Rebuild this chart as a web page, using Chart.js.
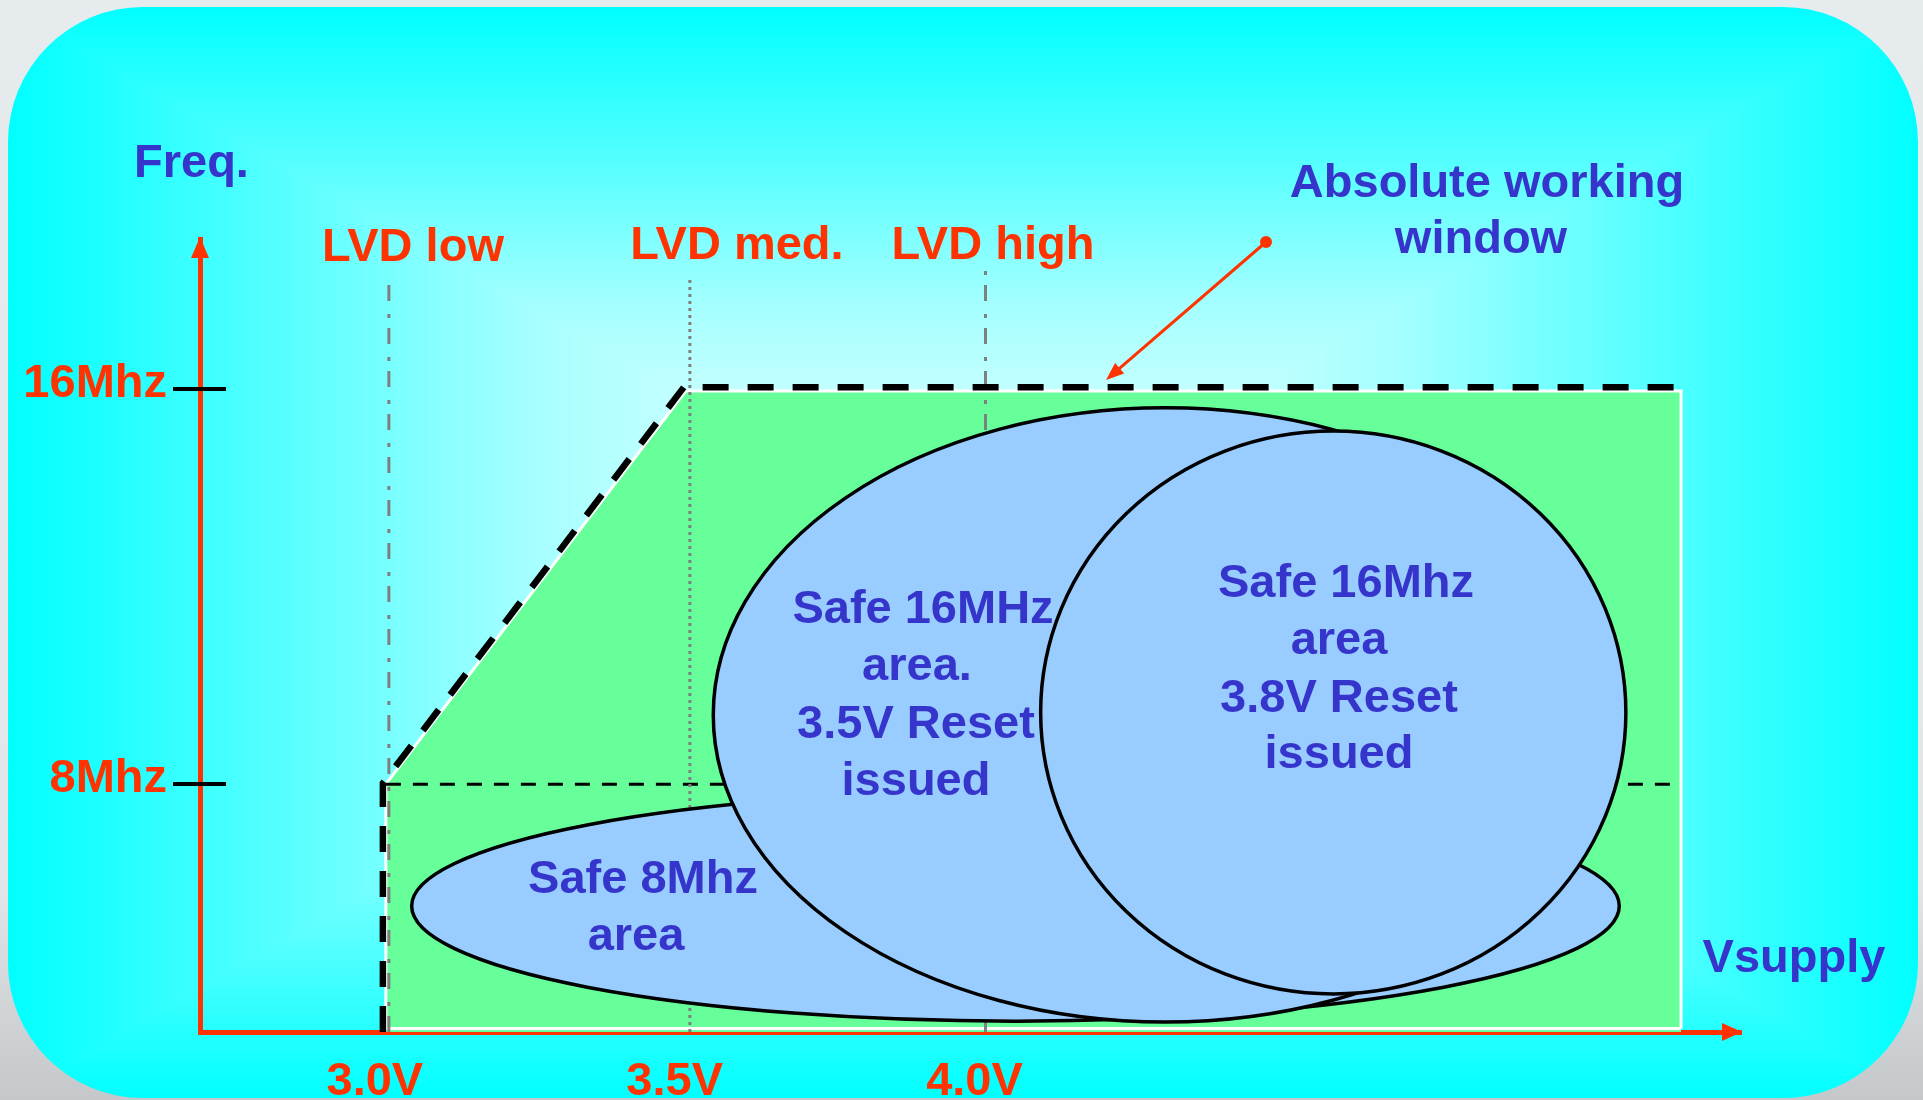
<!DOCTYPE html>
<html>
<head>
<meta charset="utf-8">
<title>Absolute working window</title>
<script src="https://cdn.jsdelivr.net/npm/chart.js@4.4.1/dist/chart.umd.min.js"></script>
<style>
  html, body { margin: 0; padding: 0; background: #e6eaed; overflow: hidden; }
  canvas { display: block; }
</style>
</head>
<body>
<canvas id="graph" width="1923" height="1100"></canvas>
<script>
// axis ranges : volts / MHz
var voltMin = 2.69, voltMax = 5.26;
var freqMin = 2.98, freqMax = 19.04;

var voltTicks = [3.0, 3.5, 4.0];
var voltLabels = ['3.0V', '3.5V', '4.0V'];
var freqTicks = [8, 16];
var freqLabels = ['8Mhz', '16Mhz'];

// LVD thresholds
var lvdVolts = [3.005, 3.507, 4.0];
var lvdTop = [18.27, 18.27, 18.47];
var lvdNames = ['LVD low', 'LVD med.', 'LVD high'];

// absolute working window (black dashed outline)
var windowV = [2.995, 2.995, 3.497, 5.16];
var windowF = [2.98, 8.02, 16.04, 16.04];

// green area
var areaV = [3.0, 3.0, 3.5, 5.16, 5.16];
var areaF = [3.05, 8.0, 15.96, 15.96, 3.05];

// 8 MHz limit line
var midV = [3.0, 5.16];
var midF = [8, 8];

// safe areas (centre + radii)
var safeCx = [4.05, 4.30, 4.58];
var safeCy = [5.53, 9.40, 9.45];
var safeRx = [1.007, 0.754, 0.488];
var safeRy = [2.33, 6.22, 5.70];
var safeText = [
    ['Safe 8Mhz', 'area'],
    ['Safe 16MHz', 'area.', '3.5V Reset', 'issued'],
    ['Safe 16Mhz', 'area', '3.8V Reset', 'issued']
];

var RED = '#ff3300';
var BLUE = '#3535cc';
var FONT = 'bold 47px "Liberation Sans", Arial, sans-serif';

function pts(xs, ys) {
    return xs.map(function (v, i) { return {x: v, y: ys[i]}; });
}

// rounded rectangle with "from centre" gradient
var background = {
    id: 'background',
    beforeDraw: function (chart) {
        var ctx = chart.ctx;
        var W = chart.width, H = chart.height;
        ctx.save();
        var g0 = ctx.createLinearGradient(0, 0, 0, H);
        g0.addColorStop(0, '#e6ebee');
        g0.addColorStop(0.8, '#e2e6e9');
        g0.addColorStop(1, '#c4c8cb');
        ctx.fillStyle = g0;
        ctx.fillRect(0, 0, W, H);

        var x0 = 8, y0 = 7, x1 = 1918, y1 = 1098, r = 135;
        var cx = (x0 + x1) / 2, cy = (y0 + y1) / 2, hw = (x1 - x0) / 2, hh = (y1 - y0) / 2;

        var off = document.createElement('canvas');
        off.width = W; off.height = H;
        var octx = off.getContext('2d');
        var img = octx.createImageData(W, H);
        var d = img.data;
        for (var y = 0; y < H; y++) {
            for (var x = 0; x < W; x++) {
                var t = Math.max(Math.abs(x - cx) / hw, Math.abs(y - cy) / hh);
                if (t > 1) t = 1;
                var red;
                if (t < 0.45) red = 250 - (250 - 166) * (t / 0.45);
                else red = 166 * (1 - (t - 0.45) / 0.55);
                var k = (y * W + x) * 4;
                d[k] = red; d[k + 1] = 255; d[k + 2] = 255; d[k + 3] = 255;
            }
        }
        octx.putImageData(img, 0, 0);

        ctx.beginPath();
        ctx.roundRect(x0, y0, x1 - x0, y1 - y0, r);
        ctx.clip();
        ctx.drawImage(off, 0, 0);
        ctx.restore();
    }
};

// ellipses for the safe areas
var safeAreas = {
    id: 'safeAreas',
    afterDatasetsDraw: function (chart) {
        var ctx = chart.ctx, sx = chart.scales.x, sy = chart.scales.y;
        ctx.save();
        for (var i = 0; i < safeCx.length; i++) {
            var cx = sx.getPixelForValue(safeCx[i]);
            var cy = sy.getPixelForValue(safeCy[i]);
            var rx = sx.getPixelForValue(safeCx[i] + safeRx[i]) - cx;
            var ry = cy - sy.getPixelForValue(safeCy[i] + safeRy[i]);
            ctx.beginPath();
            ctx.ellipse(cx, cy, rx, ry, 0, 0, Math.PI * 2);
            ctx.fillStyle = '#99ccff';
            ctx.fill();
            ctx.lineWidth = 3.5;
            ctx.strokeStyle = '#000';
            ctx.stroke();
        }
        ctx.restore();
    }
};

function text(ctx, s, x, y, color) {
    ctx.fillStyle = color;
    ctx.fillText(s, x, y);
}

// arrows, tick bars and all the labels
var decorations = {
    id: 'decorations',
    afterDraw: function (chart) {
        var ctx = chart.ctx, area = chart.chartArea, sy = chart.scales.y;
        ctx.save();

        // axis arrow heads
        ctx.fillStyle = RED;
        ctx.beginPath();
        ctx.moveTo(area.left, area.top - 2);
        ctx.lineTo(area.left - 9, area.top + 19);
        ctx.lineTo(area.left + 9, area.top + 19);
        ctx.closePath();
        ctx.fill();
        ctx.beginPath();
        ctx.moveTo(area.right + 1, area.bottom);
        ctx.lineTo(area.right - 19, area.bottom - 9);
        ctx.lineTo(area.right - 19, area.bottom + 9);
        ctx.closePath();
        ctx.fill();

        // tick bars crossing the frequency axis
        ctx.strokeStyle = '#000';
        ctx.lineWidth = 4;
        freqTicks.forEach(function (f) {
            var y = Math.round(sy.getPixelForValue(f));
            ctx.beginPath();
            ctx.moveTo(area.left - 27, y);
            ctx.lineTo(area.left + 26, y);
            ctx.stroke();
        });

        // pointer to the working window
        ctx.strokeStyle = RED;
        ctx.fillStyle = RED;
        ctx.lineWidth = 3;
        var ax = 1266, ay = 242, bx = 1106, by = 380;
        var ang = Math.atan2(by - ay, bx - ax);
        ctx.beginPath();
        ctx.moveTo(ax, ay);
        ctx.lineTo(bx - 14 * Math.cos(ang), by - 14 * Math.sin(ang));
        ctx.stroke();
        ctx.beginPath();
        ctx.arc(ax, ay, 6, 0, Math.PI * 2);
        ctx.fill();
        ctx.beginPath();
        ctx.moveTo(bx, by);
        ctx.lineTo(bx - 18 * Math.cos(ang) + 7 * Math.sin(ang), by - 18 * Math.sin(ang) - 7 * Math.cos(ang));
        ctx.lineTo(bx - 18 * Math.cos(ang) - 7 * Math.sin(ang), by - 18 * Math.sin(ang) + 7 * Math.cos(ang));
        ctx.closePath();
        ctx.fill();

        ctx.font = FONT;
        ctx.textBaseline = 'alphabetic';
        ctx.textAlign = 'left';
        text(ctx, 'Freq.', 134, 177, BLUE);

        ctx.textAlign = 'center';
        text(ctx, lvdNames[0], 413, 261, RED);
        text(ctx, lvdNames[1], 737, 259, RED);
        text(ctx, lvdNames[2], 993, 259, RED);

        text(ctx, 'Absolute working', 1487, 197, BLUE);
        text(ctx, 'window', 1481, 253, BLUE);
        text(ctx, 'Vsupply', 1794, 972, BLUE);

        // text inside the safe areas
        var tx = [[643, 636], [923, 917, 916, 916], [1346, 1339, 1339, 1339]];
        var ty = [[893, 950], [623, 680, 738, 795], [597, 654, 712, 768]];
        safeText.forEach(function (lines, i) {
            lines.forEach(function (s, j) {
                text(ctx, s, tx[i][j], ty[i][j], BLUE);
            });
        });
        ctx.restore();
    }
};

var datasets = [
    {   // green area
        data: pts(areaV, areaF),
        backgroundColor: '#66ff99',
        borderColor: '#ffffff',
        borderWidth: 3,
        fill: 'start',
        order: 10
    },
    {   // white bottom edge of the green area
        data: [{x: areaV[0], y: areaF[0]}, {x: areaV[areaV.length - 1], y: areaF[areaF.length - 1]}],
        borderColor: '#ffffff',
        borderWidth: 3,
        fill: false,
        order: 9
    },
    {   // 8 MHz limit
        data: pts(midV, midF),
        borderColor: '#000000',
        borderWidth: 3,
        borderDash: [15, 12],
        fill: false,
        order: 8
    }
];

var lvdDash = [[16, 10, 4, 13], [3, 4], [16, 10, 4, 13]];
lvdVolts.forEach(function (v, i) {
    datasets.push({
        data: [{x: v, y: freqMin}, {x: v, y: lvdTop[i]}],
        borderColor: '#7f7f7f',
        borderWidth: 3,
        borderDash: lvdDash[i],
        fill: false,
        order: 7 - i * 0.1
    });
});

datasets.push({   // absolute working window
    data: pts(windowV, windowF),
    borderColor: '#000000',
    borderWidth: 6.5,
    borderDash: [26, 19],
    borderCapStyle: 'butt',
    fill: false,
    order: 1
});

datasets.forEach(function (d) {
    d.pointRadius = 0;
    d.pointHoverRadius = 0;
    d.tension = 0;
    d.clip = false;
});

var graph = new Chart(document.getElementById('graph').getContext('2d'), {
    type: 'line',
    data: { datasets: datasets },
    options: {
        responsive: false,
        animation: false,
        events: [],
        layout: { padding: { top: 239, right: 182, bottom: 0, left: 0 } },
        plugins: {
            legend: { display: false },
            tooltip: { enabled: false }
        },
        scales: {
            x: {
                type: 'linear',
                min: voltMin,
                max: voltMax,
                z: 1,
                grid: { display: false, drawTicks: false },
                border: { display: true, color: RED, width: 5 },
                afterBuildTicks: function (axis) {
                    axis.ticks = voltTicks.map(function (v) { return {value: v}; });
                },
                afterFit: function (scale) { scale.height = 68; },
                ticks: {
                    autoSkip: false,
                    maxRotation: 0,
                    padding: 22,
                    labelOffset: -11,
                    color: RED,
                    font: { family: '"Liberation Sans", Arial, sans-serif', size: 47, weight: 'bold' },
                    callback: function (value, index) { return voltLabels[index]; }
                }
            },
            y: {
                type: 'linear',
                min: freqMin,
                max: freqMax,
                z: 1,
                grid: { display: false, drawTicks: false },
                border: { display: true, color: RED, width: 5 },
                afterBuildTicks: function (axis) {
                    axis.ticks = freqTicks.map(function (v) { return {value: v}; });
                },
                afterFit: function (scale) { scale.width = 200; },
                ticks: {
                    autoSkip: false,
                    padding: 33,
                    labelOffset: -5,
                    color: RED,
                    font: { family: '"Liberation Sans", Arial, sans-serif', size: 47, weight: 'bold' },
                    callback: function (value, index) { return freqLabels[index]; }
                }
            }
        }
    },
    plugins: [background, safeAreas, decorations]
});
</script>
</body>
</html>
